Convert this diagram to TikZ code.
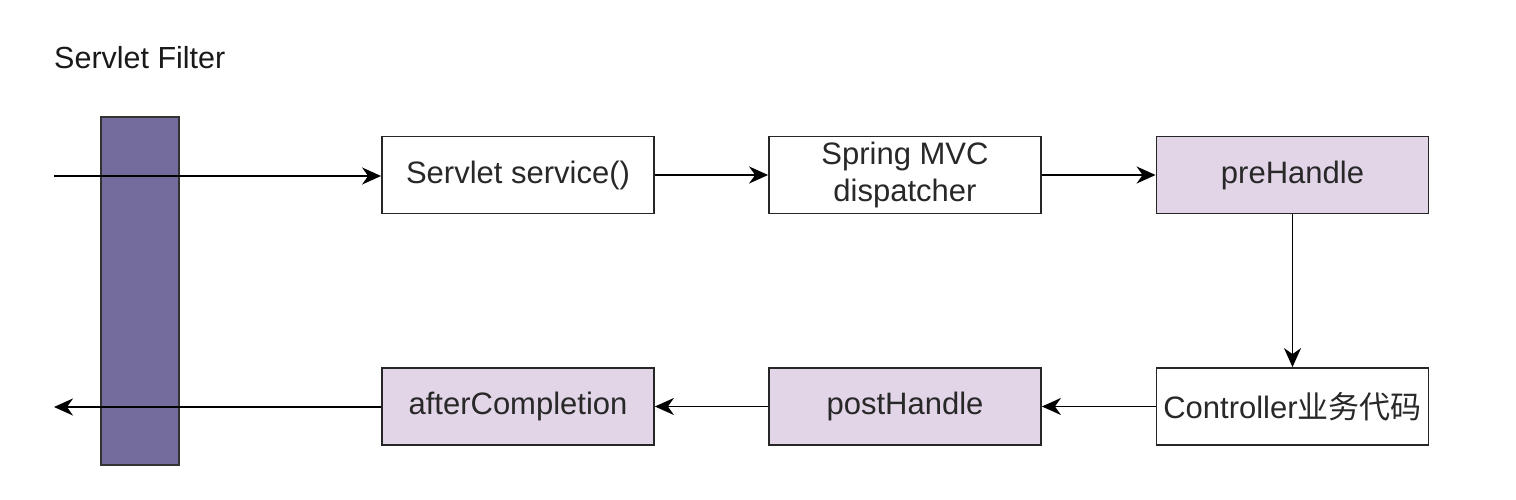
\documentclass[tikz,border=0pt]{standalone}
\usepackage{fontspec}
\setmainfont{Liberation Sans}
\newfontfamily\cjk{Noto Sans CJK SC}
\usetikzlibrary{arrows.meta}
\definecolor{barcol}{RGB}{115,108,156}
\definecolor{pinkfill}{RGB}{225,213,231}
\definecolor{txt}{RGB}{40,40,40}
\tikzset{
  box/.style={draw=black!85, line width=1.8pt, minimum width=272pt, minimum height=77pt, inner sep=0pt, align=center, text=txt, font=\fontsize{31}{37}\selectfont, fill=white},
  pbox/.style={box, fill=pinkfill},
  conn/.style={line width=1.8pt, -{Stealth[length=19pt,width=17pt,inset=6pt]}}
}
\begin{document}
\begin{tikzpicture}[x=1pt,y=-1pt]
\useasboundingbox (0,0) rectangle (1516,500);
\node[anchor=west, font=\fontsize{30.5}{32}\selectfont, text=black!90, inner sep=0pt] (title) at (54,58) {Servlet Filter};
\draw[line width=1.8pt, draw=black!80, fill=barcol] (101,117) rectangle (179,465);
\coordinate (inS) at (54,176);
\coordinate (outE) at (54,407);
\node[box] (svc) at (518,175) {\raisebox{-2pt}{Servlet service()}};
\node[box] (mvc) at (905,175) {Spring MVC\\dispatcher};
\node[pbox] (pre) at (1292.5,175) {\raisebox{-2pt}{preHandle}};
\node[box] (ctl) at (1292.5,406.5) {\raisebox{-2pt}{Controller{\cjk 业务代码}}};
\node[pbox] (post) at (905,406.5) {\raisebox{-2pt}{postHandle}};
\node[pbox] (after) at (518,406.5) {\raisebox{-2pt}{afterCompletion}};
\draw[conn] (inS) -- (svc.west |- inS);
\draw[conn] (svc) -- (mvc);
\draw[conn] (mvc) -- (pre);
\draw[conn] (pre) -- (ctl);
\draw[conn] (ctl) -- (post);
\draw[conn] (post) -- (after);
\draw[conn] (after.west |- outE) -- (outE);
\end{tikzpicture}
\end{document}
